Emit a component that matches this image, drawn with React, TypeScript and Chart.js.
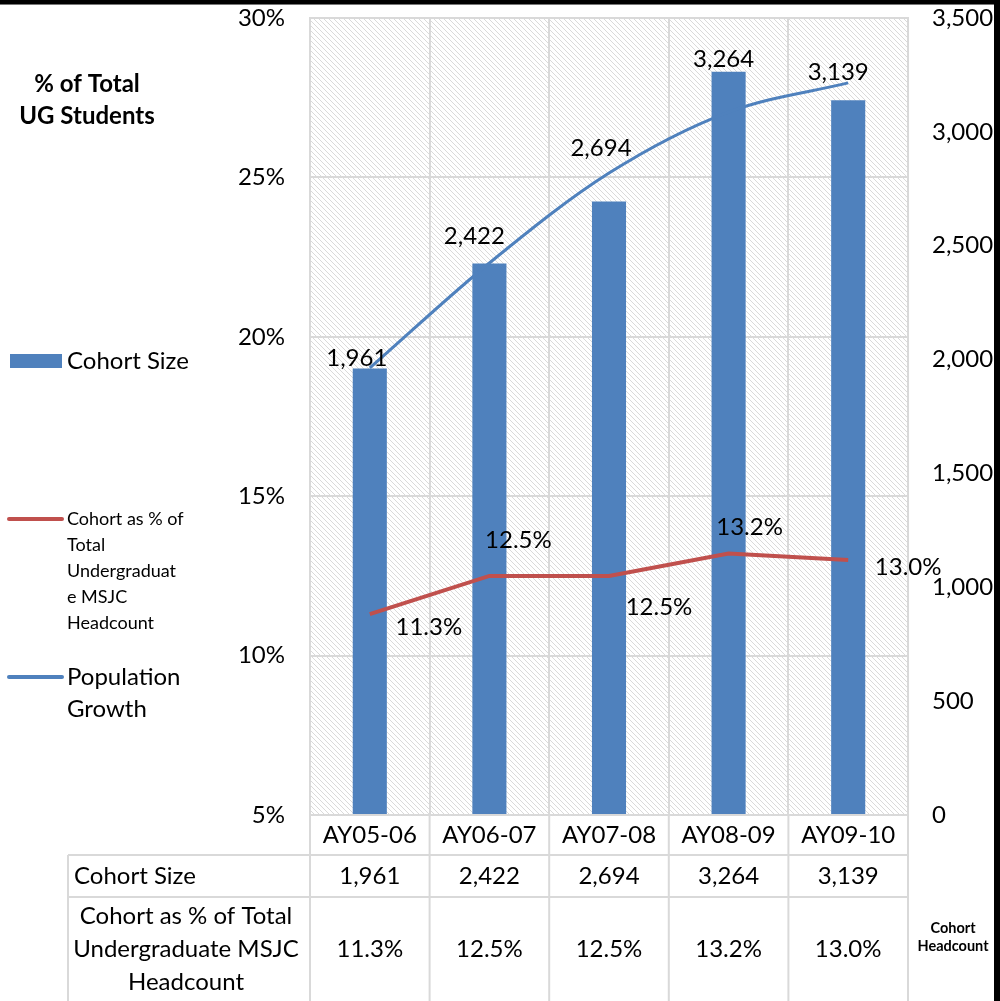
import React, { useEffect, useRef } from "react";
import { Chart, registerables } from "chart.js";

Chart.register(...registerables);

// ---- data ----
const categories = ["AY05-06", "AY06-07", "AY07-08", "AY08-09", "AY09-10"];
const cohortSize = [1961, 2422, 2694, 3264, 3139];
const cohortPct = [11.3, 12.5, 12.5, 13.2, 13.0];
const populationTrend = [1963, 2424, 2819, 3087, 3215];
const pctAxisRange = [5, 30, 5];
const countAxisRange = [0, 3500, 500];

// ---- layout / style constants ----
const W = 1000;
const H = 1001;
const BLUE = "#4F81BD";
const RED = "#C0504D";
const GRID = "#d9d9d9";
const FONT = "Lato, 'Open Sans', sans-serif";
const FS = 24;
const barLabelOffsets = [[-13, -10], [-15, -27], [-8, -53], [-5, -12], [-10, -28]];
const pctLabelOffsets = [[59, 13], [29, -36], [50, 31], [21, -26], [60, 7]];
const ROW1_TOP = 855;
const ROW2_TOP = 897;
const TABLE_LEFT = 68;

const fmt = (v: number) => v.toLocaleString("en-US");
const fmtPct = (v: number) => v.toFixed(1) + "%";

function makePattern(ctx: CanvasRenderingContext2D) {
  const c = document.createElement("canvas");
  c.width = 5;
  c.height = 5;
  const p = c.getContext("2d")!;
  p.fillStyle = "#ffffff";
  p.fillRect(0, 0, 5, 5);
  p.fillStyle = "#dadada";
  for (let i = 0; i < 5; i++) p.fillRect(i, i, 1, 1);
  return ctx.createPattern(c, "repeat");
}

const noPad = (s: any) => {
  s.paddingTop = 0;
  s.paddingBottom = 0;
  s.paddingLeft = 0;
  s.paddingRight = 0;
};

const overlay = {
  id: "overlay",
  beforeDraw(chart: any) {
    const { ctx, chartArea: a } = chart;
    ctx.save();
    ctx.fillStyle = "#ffffff";
    ctx.fillRect(0, 0, chart.width, chart.height);
    ctx.fillStyle = makePattern(ctx) as any;
    ctx.fillRect(a.left, a.top, a.right - a.left, a.bottom - a.top);
    ctx.restore();
  },
  afterDatasetsDraw(chart: any) {
    const { ctx } = chart;
    ctx.save();
    ctx.fillStyle = "#000";
    ctx.font = `${FS}px ${FONT}`;
    ctx.textAlign = "center";
    ctx.textBaseline = "middle";
    const barMeta = chart.getDatasetMeta(0);
    barMeta.data.forEach((el: any, i: number) => {
      const [dx, dy] = barLabelOffsets[i];
      ctx.fillText(fmt(cohortSize[i]), el.x + dx, el.y + dy);
    });
    const pctMeta = chart.getDatasetMeta(2);
    pctMeta.data.forEach((el: any, i: number) => {
      const [dx, dy] = pctLabelOffsets[i];
      ctx.fillText(fmtPct(cohortPct[i]), el.x + dx, el.y + dy);
    });
    ctx.restore();
  },
  afterDraw(chart: any) {
    const { ctx, chartArea: a } = chart;
    const xs = chart.scales.x;
    const n = categories.length;
    const cw = (a.right - a.left) / n;
    ctx.save();
    // plot border + table grid
    ctx.strokeStyle = GRID;
    ctx.lineWidth = 2;
    ctx.strokeRect(a.left, a.top, a.right - a.left, a.bottom - a.top);
    ctx.beginPath();
    for (let i = 0; i <= n; i++) {
      const x = a.left + i * cw;
      ctx.moveTo(x, a.bottom);
      ctx.lineTo(x, H);
    }
    ctx.moveTo(TABLE_LEFT, ROW1_TOP);
    ctx.lineTo(TABLE_LEFT, H);
    ctx.moveTo(TABLE_LEFT, ROW1_TOP);
    ctx.lineTo(a.right, ROW1_TOP);
    ctx.moveTo(TABLE_LEFT, ROW2_TOP);
    ctx.lineTo(a.right, ROW2_TOP);
    ctx.stroke();

    // table text
    ctx.fillStyle = "#000";
    ctx.font = `${FS}px ${FONT}`;
    ctx.textBaseline = "middle";
    ctx.textAlign = "left";
    ctx.fillText("Cohort Size", 74, 876);
    ctx.textAlign = "center";
    ctx.fillText("Cohort as % of Total", 186, 916);
    ctx.fillText("Undergraduate MSJC", 186, 949);
    ctx.fillText("Headcount", 186, 982);
    categories.forEach((_, i) => {
      const x = xs.getPixelForValue(i);
      ctx.fillText(fmt(cohortSize[i]), x, 876);
      ctx.fillText(fmtPct(cohortPct[i]), x, 949);
    });

    // title
    ctx.font = `bold ${FS}px ${FONT}`;
    ctx.fillText("% of Total", 87, 84);
    ctx.fillText("UG Students", 87, 116);
    ctx.font = `bold 14.5px ${FONT}`;
    ctx.fillText("Cohort", 953, 928);
    ctx.fillText("Headcount", 953, 946);

    // legend
    ctx.textAlign = "left";
    ctx.fillStyle = BLUE;
    ctx.fillRect(10, 354, 52, 14);
    ctx.fillStyle = "#000";
    ctx.font = `${FS}px ${FONT}`;
    ctx.fillText("Cohort Size", 67, 361);
    ctx.lineCap = "round";
    ctx.lineWidth = 4;
    ctx.strokeStyle = RED;
    ctx.beginPath();
    ctx.moveTo(9, 519);
    ctx.lineTo(62, 519);
    ctx.stroke();
    ctx.strokeStyle = BLUE;
    ctx.beginPath();
    ctx.moveTo(9, 677);
    ctx.lineTo(62, 677);
    ctx.stroke();
    ctx.font = `18px ${FONT}`;
    ["Cohort as % of", "Total", "Undergraduat", "e MSJC", "Headcount"].forEach((t, i) =>
      ctx.fillText(t, 67, 519 + i * 26)
    );
    ctx.font = `${FS}px ${FONT}`;
    ctx.fillText("Population", 67, 677);
    ctx.fillText("Growth", 67, 709);

    // outer black frame pieces
    ctx.fillStyle = "#000";
    ctx.fillRect(0, 0, W, 4);
    ctx.fillStyle = "#777";
    ctx.fillRect(0, 4, W, 1);
    ctx.fillStyle = "#000";
    ctx.fillRect(994, 0, 6, H);
    ctx.restore();
  },
};

export default function App() {
  const ref = useRef<HTMLCanvasElement>(null);
  useEffect(() => {
    const chart = new Chart(ref.current!, {
      type: "bar",
      data: {
        labels: categories,
        datasets: [
          {
            type: "bar",
            label: "Cohort Size",
            data: cohortSize,
            backgroundColor: BLUE,
            yAxisID: "y1",
            categoryPercentage: 1,
            barPercentage: 0.285,
            order: 3,
          },
          {
            type: "line",
            label: "Population Growth",
            data: populationTrend,
            borderColor: BLUE,
            borderWidth: 3,
            pointRadius: 0,
            tension: 0.4,
            cubicInterpolationMode: "monotone",
            yAxisID: "y1",
            order: 2,
          } as any,
          {
            type: "line",
            label: "Cohort as % of Total Undergraduate MSJC Headcount",
            data: cohortPct,
            borderColor: RED,
            borderWidth: 4,
            pointRadius: 0,
            tension: 0,
            yAxisID: "y",
            order: 1,
          },
        ],
      },
      options: {
        responsive: false,
        animation: false,
        devicePixelRatio: 1,
        layout: { padding: { left: 0, right: 0, top: 18, bottom: 0 } },
        plugins: { legend: { display: false }, tooltip: { enabled: false } },
        scales: {
          x: {
            grid: { color: GRID, lineWidth: 2, drawTicks: false, offset: true },
            border: { display: false },
            ticks: { color: "#000", font: { family: FONT, size: FS }, padding: 6, maxRotation: 0 },
            afterFit: (s: any) => { s.height = 186; noPad(s); },
          },
          y: {
            position: "left",
            min: pctAxisRange[0],
            max: pctAxisRange[1],
            grid: { color: GRID, lineWidth: 2, drawTicks: false },
            border: { display: false },
            ticks: {
              stepSize: pctAxisRange[2],
              color: "#000",
              font: { family: FONT, size: FS },
              padding: 25,
              callback: (v: any) => v + "%",
            },
            afterFit: (s: any) => { s.width = 310; noPad(s); },
          },
          y1: {
            position: "right",
            min: countAxisRange[0],
            max: countAxisRange[1],
            grid: { display: false, drawTicks: false },
            border: { display: false },
            ticks: {
              stepSize: countAxisRange[2],
              color: "#000",
              font: { family: FONT, size: FS },
              padding: 24,
              callback: (v: any) => fmt(Number(v)),
            },
            afterFit: (s: any) => { s.width = 92; noPad(s); },
          },
        },
      },
      plugins: [overlay],
    });
    return () => chart.destroy();
  }, []);
  return (
    <div style={{ position: "absolute", left: 0, top: 0, width: W, height: H, background: "#fff" }}>
      <canvas ref={ref} width={W} height={H} style={{ display: "block", width: W, height: H }} />
    </div>
  );
}
